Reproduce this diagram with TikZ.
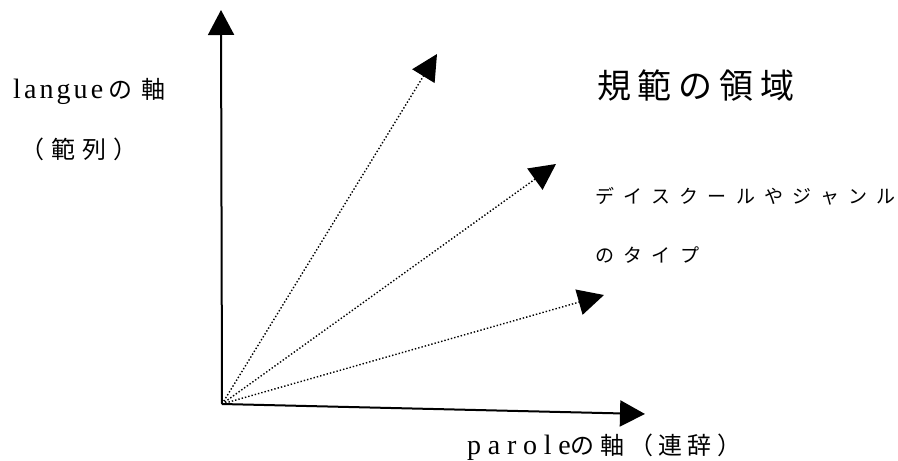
\documentclass[tikz,border=0pt]{standalone}
\usepackage{fontspec}
\usetikzlibrary{arrows.meta}
\setmainfont{Liberation Serif}
\newfontfamily\jp{Noto Sans CJK JP}
\begin{document}
\begin{tikzpicture}[x=1pt,y=-1pt,
  axis/.style={line width=2pt,-{Triangle[length=25pt,width=26pt]}},
  ray/.style={line width=1.4pt,dotted,-{Triangle[length=26pt,width=26pt]}},
  lbl/.style={anchor=west,inner sep=0pt,font=\fontsize{24}{24}\selectfont},
  latin/.style={font=\fontsize{28}{28}\selectfont}]
\useasboundingbox (0,0) rectangle (898,461);
\coordinate (O) at (222,404);
\coordinate (top) at (221,10);
\coordinate (right) at (645,414);
\coordinate (r1) at (437,54);
\coordinate (r2) at (556,164);
\coordinate (r3) at (604,295);
\draw[axis] (O) -- (top);
\draw[axis] (O) -- (right);
\draw[ray] (O) -- (r1);
\draw[ray] (O) -- (r2);
\draw[ray] (O) -- (r3);
\node[lbl] (langue) at (13,91) {{\fontsize{28}{28}\selectfont\addfontfeature{LetterSpace=11}langue}\hspace{5pt}{\jp の\hspace{9pt}軸}};
\node[lbl] (paradigm) at (20,149) {\jp\addfontfeature{LetterSpace=30}（範列）};
\node[lbl,font=\fontsize{34}{34}\selectfont] (norm) at (597,86) {\jp\addfontfeature{LetterSpace=20}規範の領域};
\node[lbl,font=\fontsize{19}{19}\selectfont] (disc) at (595,196) {\jp\addfontfeature{LetterSpace=49}デイスクールやジャンル};
\node[lbl,font=\fontsize{19}{19}\selectfont] (type) at (595,255) {\jp\addfontfeature{LetterSpace=49}のタイプ};
\node[lbl] (parole) at (467,447) {{\fontsize{28}{28}\selectfont\addfontfeature{LetterSpace=24}parole}{\jp\addfontfeature{LetterSpace=22}の軸（連辞）}};
\end{tikzpicture}
\end{document}
